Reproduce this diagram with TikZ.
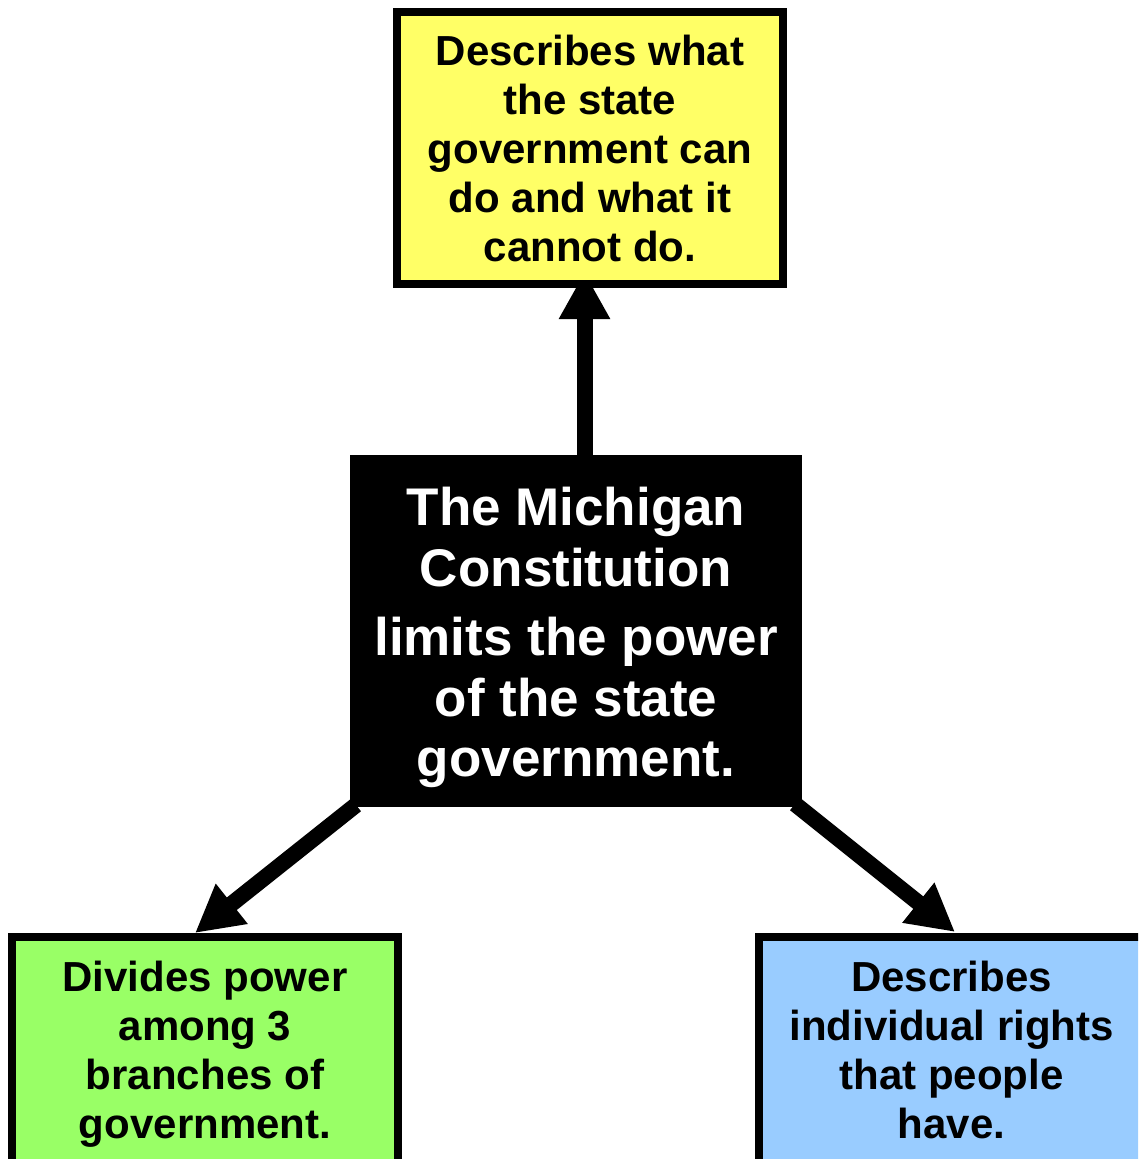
\documentclass[tikz,border=0pt]{standalone}
\usepackage{fontspec}
\setmainfont{Liberation Sans}
\usetikzlibrary{arrows.meta,backgrounds,calc}

\definecolor{boxyellow}{RGB}{255,255,102}
\definecolor{boxgreen}{RGB}{153,255,102}
\definecolor{boxblue}{RGB}{153,204,255}

\tikzset{
  infobox/.style={draw=black, line width=6pt, rectangle, inner sep=0pt,
    align=center, text=black,
    font=\fontsize{31.5pt}{36.75pt}\selectfont\bfseries},
  corebox/.style={fill=black, rectangle, inner sep=0pt, outer sep=0pt},
  coretext/.style={align=center, text=white, inner sep=0pt,
    font=\fontsize{39.75pt}{45.5pt}\selectfont\bfseries},
  bigarrow/.style={line width=12pt,
    -{Triangle[length=35.25pt, width=36pt]}}
}

\begin{document}
\begin{tikzpicture}[x=0.75pt, y=-0.75pt]
  \useasboundingbox (0,0) rectangle (1138,1159);
  \clip (0,0) rectangle (1138,1159);

  % central statement
  \node[corebox, minimum width=339pt, minimum height=264pt] (core) at (576,631) {};
  \node[coretext] (corelabel) at ($(core.center)+(0,6.5)$)
    {The Michigan\\Constitution\\[6.5pt]limits the power\\of the state\\government.};

  % the three consequences
  \node[infobox, fill=boxyellow, minimum width=289.5pt, minimum height=204pt] (limits) at (590,148)
    {Describes what\\the state\\government can\\do and what it\\cannot do.};
  \node[infobox, fill=boxgreen, minimum width=289.5pt, minimum height=175.5pt] (branches) at (205,1054)
    {Divides power\\among 3\\branches of\\government.};
  \node[infobox, fill=boxblue, minimum width=288.75pt, minimum height=169.5pt] (rights) at (951.5,1050)
    {Describes\\individual rights\\that people\\have.};

  % arrows run underneath the boxes
  \begin{scope}[on background layer]
    \draw[bigarrow] ($(core.north)+(8.5,0)$) -- ($(limits.south)+(-5.5,-16)$);
    \draw[bigarrow] ($(core.south west)+(6,-2)$) -- ($(branches.north)+(-10,0)$);
    \draw[bigarrow] ($(core.south east)+(-7,-3)$) -- ($(rights.north)+(3.5,-1)$);
  \end{scope}
\end{tikzpicture}
\end{document}
